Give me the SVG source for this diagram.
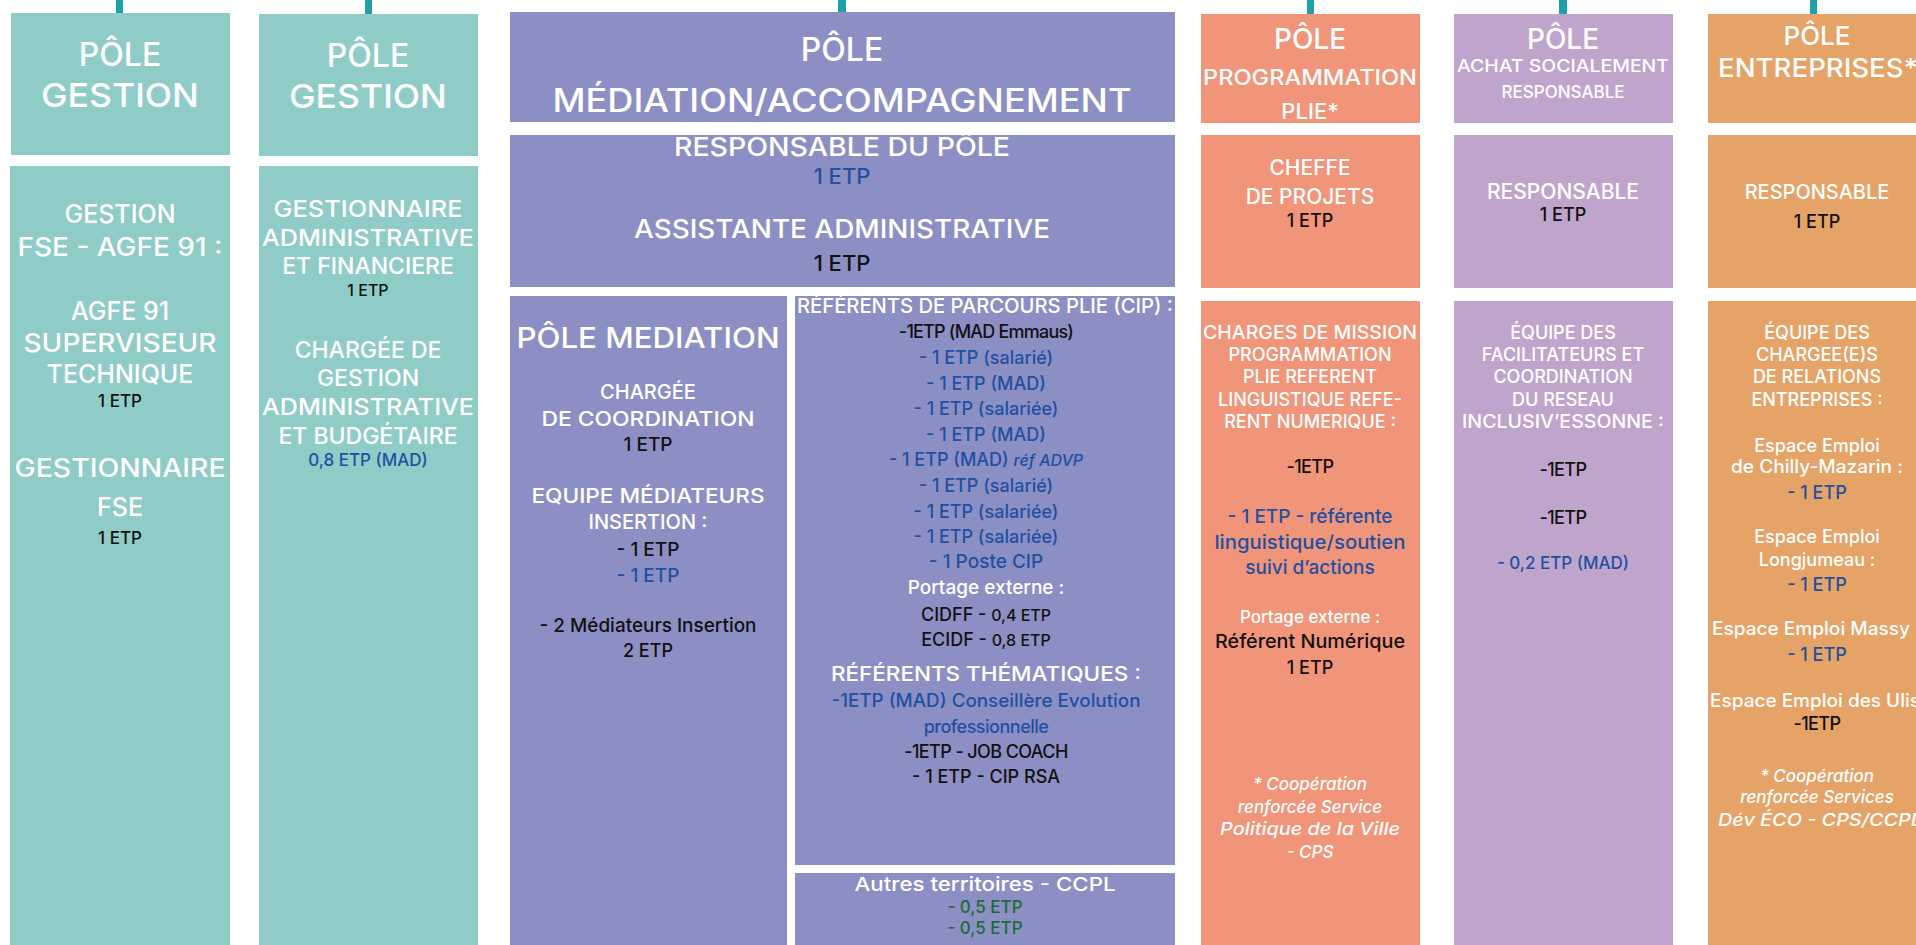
<svg xmlns="http://www.w3.org/2000/svg" width="1916" height="945" viewBox="0 0 1916 945">
<style>
text{font-family:Inter,"Noto Sans","DejaVu Sans",sans-serif;text-anchor:middle;font-weight:500}
.w{fill:#fff}.k{fill:#111}.b{fill:#2150A2}.g{fill:#1D6B36}
.teal{fill:#8FCCC7}.med{fill:#8B8FC4}.plie{fill:#F1957A}.achat{fill:#BFA5CC}.ent{fill:#E5A368}
.conn{fill:#1F9FA7}
.it{font-style:italic}
</style>
<rect width="1916" height="945" fill="#fff"/>
<g id="connectors">
<rect class="conn" x="116" y="0" width="7" height="14"/>
<rect class="conn" x="365" y="0" width="7" height="15"/>
<rect class="conn" x="838" y="0" width="8" height="13"/>
<rect class="conn" x="1307" y="0" width="7" height="15"/>
<rect class="conn" x="1559" y="0" width="8" height="15"/>
<rect class="conn" x="1810" y="0" width="7" height="15"/>
</g>
<g id="pole-gestion-1">
<rect class="teal" x="11" y="13" width="219" height="142"/>
<text class="w" x="120" y="66" font-size="32">PÔLE</text>
<text class="w" x="120" y="107" font-size="33" textLength="158" lengthAdjust="spacingAndGlyphs">GESTION</text>
</g>
<g id="gestion-fse">
<rect class="teal" x="10" y="166" width="220" height="779"/>
<text class="w" x="120" y="223" font-size="25">GESTION</text>
<text class="w" x="120" y="256" font-size="25" textLength="205" lengthAdjust="spacingAndGlyphs">FSE - AGFE 91 :</text>
<text class="w" x="120" y="320" font-size="25">AGFE 91</text>
<text class="w" x="120" y="352" font-size="25" textLength="193" lengthAdjust="spacingAndGlyphs">SUPERVISEUR</text>
<text class="w" x="120" y="383" font-size="25">TECHNIQUE</text>
<text class="k" x="120" y="407" font-size="17">1 ETP</text>
<text class="w" x="120" y="477" font-size="25" textLength="211" lengthAdjust="spacingAndGlyphs">GESTIONNAIRE</text>
<text class="w" x="120" y="516" font-size="25">FSE</text>
<text class="k" x="120" y="544" font-size="17">1 ETP</text>
</g>
<g id="pole-gestion-2">
<rect class="teal" x="259" y="14" width="219" height="142"/>
<text class="w" x="368" y="67" font-size="32">PÔLE</text>
<text class="w" x="368" y="108" font-size="33" textLength="158" lengthAdjust="spacingAndGlyphs">GESTION</text>
</g>
<g id="gestionnaire-admin">
<rect class="teal" x="259" y="166" width="219" height="779"/>
<text class="w" x="368" y="217" font-size="23" textLength="189" lengthAdjust="spacingAndGlyphs">GESTIONNAIRE</text>
<text class="w" x="368" y="246" font-size="23" textLength="212" lengthAdjust="spacingAndGlyphs">ADMINISTRATIVE</text>
<text class="w" x="368" y="274" font-size="23">ET FINANCIERE</text>
<text class="k" x="368" y="296" font-size="16">1 ETP</text>
<text class="w" x="368" y="358" font-size="23">CHARGÉE DE</text>
<text class="w" x="368" y="386" font-size="23">GESTION</text>
<text class="w" x="368" y="415" font-size="23" textLength="212" lengthAdjust="spacingAndGlyphs">ADMINISTRATIVE</text>
<text class="w" x="368" y="444" font-size="23">ET BUDGÉTAIRE</text>
<text class="b" x="368" y="466" font-size="17">0,8 ETP (MAD)</text>
</g>
<g id="pole-mediation-accompagnement">
<rect class="med" x="510" y="12" width="665" height="110"/>
<text class="w" x="842" y="61" font-size="32">PÔLE</text>
<text class="w" x="842" y="112" font-size="32" textLength="579" lengthAdjust="spacingAndGlyphs">MÉDIATION/ACCOMPAGNEMENT</text>
</g>
<g id="responsable-pole">
<rect class="med" x="510" y="135" width="665" height="152"/>
<text class="w" x="842" y="156" font-size="25" textLength="336" lengthAdjust="spacingAndGlyphs">RESPONSABLE DU PÔLE</text>
<text class="b" x="842" y="184" font-size="22">1 ETP</text>
<text class="w" x="842" y="238" font-size="25" textLength="416" lengthAdjust="spacingAndGlyphs">ASSISTANTE ADMINISTRATIVE</text>
<text class="k" x="842" y="271" font-size="22">1 ETP</text>
</g>
<g id="pole-mediation">
<rect class="med" x="510" y="296" width="277" height="649"/>
<text class="w" x="648" y="348" font-size="28" textLength="263" lengthAdjust="spacingAndGlyphs">PÔLE MEDIATION</text>
<text class="w" x="648" y="399" font-size="20">CHARGÉE</text>
<text class="w" x="648" y="426" font-size="20" textLength="213" lengthAdjust="spacingAndGlyphs">DE COORDINATION</text>
<text class="k" x="648" y="451" font-size="19">1 ETP</text>
<text class="w" x="648" y="503" font-size="20" textLength="233" lengthAdjust="spacingAndGlyphs">EQUIPE MÉDIATEURS</text>
<text class="w" x="648" y="529" font-size="20">INSERTION :</text>
<text class="k" x="648" y="556" font-size="19">- 1 ETP</text>
<text class="b" x="648" y="582" font-size="19">- 1 ETP</text>
<text class="k" x="648" y="632" font-size="19" textLength="217" lengthAdjust="spacingAndGlyphs">- 2 Médiateurs Insertion</text>
<text class="k" x="648" y="657" font-size="18">2 ETP</text>
</g>
<g id="referents-parcours">
<rect class="med" x="795" y="296" width="380" height="569"/>
<text class="w" x="985" y="313" font-size="20" textLength="376" lengthAdjust="spacingAndGlyphs">RÉFÉRENTS DE PARCOURS PLIE (CIP) :</text>
<text class="k" x="986" y="338" font-size="18" letter-spacing="-0.8">-1ETP (MAD Emmaus)</text>
<text class="b" x="986" y="364" font-size="18">- 1 ETP (salarié)</text>
<text class="b" x="986" y="390" font-size="18">- 1 ETP (MAD)</text>
<text class="b" x="986" y="415" font-size="18">- 1 ETP (salariée)</text>
<text class="b" x="986" y="441" font-size="18">- 1 ETP (MAD)</text>
<text class="b" x="986" y="466" font-size="18">- 1 ETP (MAD) <tspan class="it" font-size="16">réf ADVP</tspan></text>
<text class="b" x="986" y="492" font-size="18">- 1 ETP (salarié)</text>
<text class="b" x="986" y="518" font-size="18">- 1 ETP (salariée)</text>
<text class="b" x="986" y="543" font-size="18">- 1 ETP (salariée)</text>
<text class="b" x="986" y="568" font-size="19">- 1 Poste CIP</text>
<text class="w" x="986" y="594" font-size="19">Portage externe :</text>
<text class="k" x="986" y="621" font-size="18">CIDFF - <tspan font-size="16">0,4 ETP</tspan></text>
<text class="k" x="986" y="646" font-size="18">ECIDF - <tspan font-size="16">0,8 ETP</tspan></text>
<text class="w" x="986" y="681" font-size="20" textLength="310" lengthAdjust="spacingAndGlyphs">RÉFÉRENTS THÉMATIQUES :</text>
<text class="b" x="986" y="707" font-size="18" textLength="309" lengthAdjust="spacingAndGlyphs">-1ETP (MAD) Conseillère Evolution</text>
<text class="b" x="986" y="733" font-size="18" letter-spacing="-0.5">professionnelle</text>
<text class="k" x="986" y="758" font-size="18" letter-spacing="-0.6">-1ETP - JOB COACH</text>
<text class="k" x="986" y="783" font-size="18">- 1 ETP - CIP RSA</text>
</g>
<g id="autres-territoires">
<rect class="med" x="795" y="873" width="380" height="72"/>
<text class="w" x="985" y="891" font-size="19" textLength="261" lengthAdjust="spacingAndGlyphs">Autres territoires - CCPL</text>
<text class="g" x="985" y="913" font-size="17">- 0,5 ETP</text>
<text class="g" x="985" y="934" font-size="17">- 0,5 ETP</text>
</g>
<g id="pole-programmation-plie">
<rect class="plie" x="1201" y="14" width="219" height="109"/>
<text class="w" x="1310" y="49" font-size="28">PÔLE</text>
<text class="w" x="1310" y="85" font-size="22" textLength="214" lengthAdjust="spacingAndGlyphs">PROGRAMMATION</text>
<text class="w" x="1310" y="119" font-size="22">PLIE*</text>
</g>
<g id="cheffe-projets">
<rect class="plie" x="1201" y="135" width="219" height="153"/>
<text class="w" x="1310" y="175" font-size="21">CHEFFE</text>
<text class="w" x="1310" y="204" font-size="21">DE PROJETS</text>
<text class="k" x="1310" y="227" font-size="18">1 ETP</text>
</g>
<g id="charges-mission">
<rect class="plie" x="1201" y="301" width="219" height="644"/>
<text class="w" x="1310" y="339" font-size="18" textLength="214" lengthAdjust="spacingAndGlyphs">CHARGES DE MISSION</text>
<text class="w" x="1310" y="361" font-size="18">PROGRAMMATION</text>
<text class="w" x="1310" y="383" font-size="18">PLIE REFERENT</text>
<text class="w" x="1310" y="406" font-size="18">LINGUISTIQUE REFE-</text>
<text class="w" x="1310" y="428" font-size="18">RENT NUMERIQUE :</text>
<text class="k" x="1310" y="473" font-size="18" letter-spacing="-0.6">-1ETP</text>
<text class="b" x="1310" y="523" font-size="19">- 1 ETP - référente</text>
<text class="b" x="1310" y="549" font-size="19" textLength="191" lengthAdjust="spacingAndGlyphs">linguistique/soutien</text>
<text class="b" x="1310" y="574" font-size="19">suivi d’actions</text>
<text class="w" x="1310" y="623" font-size="17">Portage externe :</text>
<text class="k" x="1310" y="648" font-size="19" textLength="190" lengthAdjust="spacingAndGlyphs">Référent Numérique</text>
<text class="k" x="1310" y="674" font-size="18">1 ETP</text>
<text class="w it" x="1310" y="790" font-size="17">* Coopération</text>
<text class="w it" x="1310" y="813" font-size="17">renforcée Service</text>
<text class="w it" x="1310" y="835" font-size="17" textLength="180" lengthAdjust="spacingAndGlyphs">Politique de la Ville</text>
<text class="w it" x="1310" y="858" font-size="17">- CPS</text>
</g>
<g id="pole-achat">
<rect class="achat" x="1454" y="14" width="219" height="109"/>
<text class="w" x="1563" y="49" font-size="28">PÔLE</text>
<text class="w" x="1563" y="72" font-size="17" textLength="212" lengthAdjust="spacingAndGlyphs">ACHAT SOCIALEMENT</text>
<text class="w" x="1563" y="98" font-size="17">RESPONSABLE</text>
</g>
<g id="responsable-achat">
<rect class="achat" x="1454" y="135" width="219" height="153"/>
<text class="w" x="1563" y="199" font-size="21">RESPONSABLE</text>
<text class="k" x="1563" y="221" font-size="18">1 ETP</text>
</g>
<g id="equipe-facilitateurs">
<rect class="achat" x="1454" y="301" width="219" height="644"/>
<text class="w" x="1563" y="339" font-size="18">ÉQUIPE DES</text>
<text class="w" x="1563" y="361" font-size="18">FACILITATEURS ET</text>
<text class="w" x="1563" y="383" font-size="18">COORDINATION</text>
<text class="w" x="1563" y="406" font-size="18">DU RESEAU</text>
<text class="w" x="1563" y="428" font-size="18" textLength="202" lengthAdjust="spacingAndGlyphs">INCLUSIV’ESSONNE :</text>
<text class="k" x="1563" y="476" font-size="18" letter-spacing="-0.6">-1ETP</text>
<text class="k" x="1563" y="524" font-size="18" letter-spacing="-0.6">-1ETP</text>
<text class="b" x="1563" y="569" font-size="17">- 0,2 ETP (MAD)</text>
</g>
<g id="pole-entreprises">
<rect class="ent" x="1708" y="14" width="220" height="109"/>
<text class="w" x="1817" y="45" font-size="26">PÔLE</text>
<text class="w" x="1818" y="77" font-size="26" textLength="200" lengthAdjust="spacingAndGlyphs">ENTREPRISES*</text>
</g>
<g id="responsable-entreprises">
<rect class="ent" x="1708" y="135" width="220" height="153"/>
<text class="w" x="1817" y="199" font-size="20">RESPONSABLE</text>
<text class="k" x="1817" y="228" font-size="18">1 ETP</text>
</g>
<g id="equipe-relations-entreprises">
<rect class="ent" x="1708" y="301" width="220" height="644"/>
<text class="w" x="1817" y="339" font-size="18">ÉQUIPE DES</text>
<text class="w" x="1817" y="361" font-size="18">CHARGEE(E)S</text>
<text class="w" x="1817" y="383" font-size="18">DE RELATIONS</text>
<text class="w" x="1817" y="406" font-size="18">ENTREPRISES :</text>
<text class="w" x="1817" y="452" font-size="18">Espace Emploi</text>
<text class="w" x="1817" y="473" font-size="18" textLength="172" lengthAdjust="spacingAndGlyphs">de Chilly-Mazarin :</text>
<text class="b" x="1817" y="499" font-size="18">- 1 ETP</text>
<text class="w" x="1817" y="543" font-size="18">Espace Emploi</text>
<text class="w" x="1817" y="566" font-size="18">Longjumeau :</text>
<text class="b" x="1817" y="591" font-size="18">- 1 ETP</text>
<text class="w" x="1811" y="635" font-size="18" textLength="198" lengthAdjust="spacingAndGlyphs">Espace Emploi Massy</text>
<text class="b" x="1817" y="661" font-size="18">- 1 ETP</text>
<text class="w" x="1815" y="707" font-size="18" textLength="210" lengthAdjust="spacingAndGlyphs">Espace Emploi des Ulis</text>
<text class="k" x="1817" y="730" font-size="18" letter-spacing="-0.6">-1ETP</text>
<text class="w it" x="1817" y="782" font-size="17">* Coopération</text>
<text class="w it" x="1817" y="803" font-size="17">renforcée Services</text>
<text class="w it" x="1820" y="826" font-size="17" textLength="204" lengthAdjust="spacingAndGlyphs">Dév ÉCO - CPS/CCPL</text>
</g>
</svg>
